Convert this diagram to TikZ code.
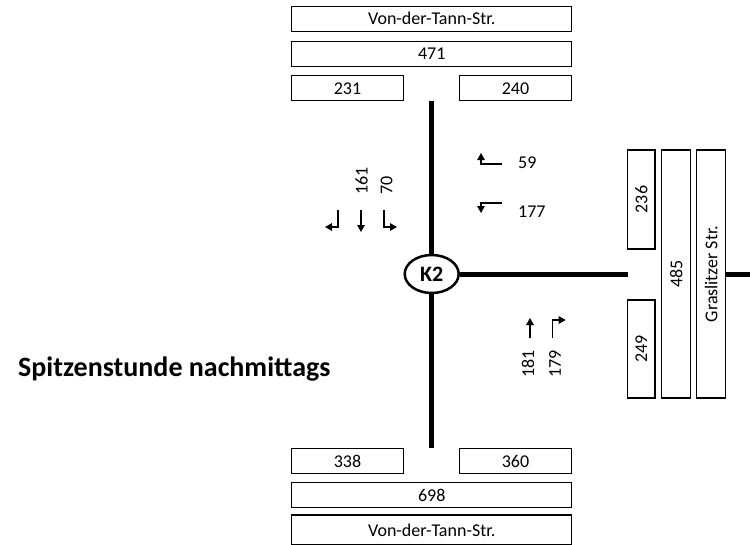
\documentclass[tikz,border=0pt]{standalone}
\usepackage{fontspec}
\setmainfont{Carlito}
\usetikzlibrary{positioning,arrows.meta,shapes.geometric}

\begin{document}
\begin{tikzpicture}[x=1pt, y=-1pt, font=\fontsize{18}{21}\selectfont]

% lane boxes, roads and turn arrows
\tikzset{
  lane/.style={draw, line width=1.2pt, inner sep=0pt, minimum height=25pt},
  vlane/.style={lane, rotate=90},
  road/.style={line width=5pt},
  turn/.style={line width=1.3pt, -{Triangle[length=7pt,width=7.5pt]}},
  cnt/.style={inner sep=0pt, rotate=90, anchor=west},
  hcnt/.style={inner sep=0pt, anchor=west},
}

\useasboundingbox (0,0) rectangle (750,544);

% -----------------------------------------
% North: Von-der-Tann-Str.
% -----------------------------------------
\node[lane, minimum width=280pt] (topname) at (431.7,18.8) {Von-der-Tann-Str.};
\node[lane, minimum width=280pt] (top471) at (431.7,53.8) {471};
\node[lane, minimum width=111.6pt] (top231) at (347.5,88.3) {231};
\node[lane, minimum width=112.4pt] (top240) at (515.5,88.3) {240};

% -----------------------------------------
% South: Von-der-Tann-Str.
% -----------------------------------------
\node[lane, minimum width=111.6pt] (bot338) at (347.5,461.3) {338};
\node[lane, minimum width=112.4pt] (bot360) at (515.5,461.3) {360};
\node[lane, minimum width=280pt] (bot698) at (431.7,495.3) {698};
\node[lane, minimum width=280pt, minimum height=30pt] (botname) at (431.7,530) {Von-der-Tann-Str.};

% -----------------------------------------
% East: Graslitzer Str.
% -----------------------------------------
\node[vlane, minimum width=99pt, minimum height=27.3pt] (e236) at (641.3,199.5) {236};
\node[vlane, minimum width=98pt, minimum height=27.3pt] (e249) at (641.3,349) {249};
\node[vlane, minimum width=248pt, minimum height=29pt] (e485) at (676.2,274) {485};
\node[vlane, minimum width=248pt, minimum height=29pt] (ename) at (711.2,274) {Graslitzer Str.};

% -----------------------------------------
% Junction K2 and roads
% -----------------------------------------
\node[ellipse, draw, line width=2.5pt, minimum width=54pt, minimum height=38pt, inner sep=0pt,
      font=\fontsize{22}{24}\selectfont\bfseries] (k2) at (431.7,274) {K2};

\coordinate (nend) at (431.7,100.7);
\coordinate (send) at (431.7,448.3);
\coordinate (eend) at (627.7,274);
\coordinate (farend) at (752,274);

\draw[road] (k2) -- (nend);
\draw[road] (k2) -- (send);
\draw[road] (k2) -- (eend);
\draw[road] (ename.south) -- (farend);

% -----------------------------------------
% Turning movements
% -----------------------------------------
% from north
\coordinate (sl) at (338,210);
\coordinate (ss) at (361,210);
\coordinate (sr) at (384,210);
\draw[turn] (sl) |- ++(-13,17);
\draw[turn] (ss) -- ++(0,22);
\draw[turn] (sr) |- ++(13,17);
\node[cnt] (l161) at (361.7,195) {161};
\node[cnt] (l70) at (386.7,195) {70};

% from east
\coordinate (wr) at (502,164);
\coordinate (wl) at (502,203);
\draw[turn] (wr) -| ++(-21,-11);
\draw[turn] (wl) -| ++(-21,10);
\node[hcnt] (l59) at (518,163) {59};
\node[hcnt] (l177) at (518,212) {177};

% from south
\coordinate (ns) at (530,338);
\coordinate (nr) at (552.7,338);
\draw[turn] (ns) -- ++(0,-20);
\draw[turn] (nr) |- ++(13,-18);
\node[cnt] (l181) at (528,378) {181};
\node[cnt] (l179) at (555,378) {179};

% title
\node[anchor=west, inner sep=0pt, font=\fontsize{28}{32}\selectfont\bfseries] (title) at (18,369) {Spitzenstunde nachmittags};
\end{tikzpicture}
\end{document}
